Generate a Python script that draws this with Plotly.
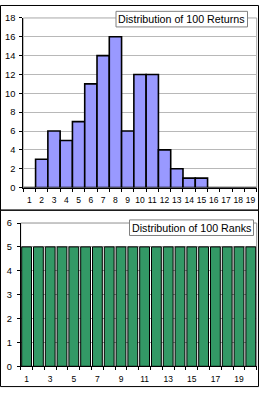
import plotly.graph_objects as go

W, H = 261, 394

# ---- data ----
return_bins = [1, 2, 3, 4, 5, 6, 7, 8, 9, 10, 11, 12, 13, 14, 15, 16, 17, 18, 19]
return_counts = [0, 3, 6, 5, 7, 11, 14, 16, 6, 12, 12, 4, 2, 1, 1, 0, 0, 0, 0]
rank_bins = [1, 2, 3, 4, 5, 6, 7, 8, 9, 10, 11, 12, 13, 14, 15, 16, 17, 18, 19, 20]
rank_counts = [5, 5, 5, 5, 5, 5, 5, 5, 5, 5, 5, 5, 5, 5, 5, 5, 5, 5, 5, 5]
rank_labels = [1, 3, 5, 7, 9, 11, 13, 15, 17, 19]
top_title = "Distribution of 100 Returns"
bottom_title = "Distribution of 100 Ranks"

FONT = "Liberation Sans, Arial, sans-serif"


def px(x):
    return x / W


def py(y):
    return 1 - y / H


fig = go.Figure()

fig.add_trace(go.Bar(
    x=return_bins, y=return_counts, width=1,
    marker=dict(color="#9999FF", line=dict(color="black", width=1.6)),
    xaxis="x", yaxis="y", showlegend=False, hoverinfo="skip"))

fig.add_trace(go.Bar(
    x=rank_bins, y=rank_counts, width=0.83,
    marker=dict(color="#339966", line=dict(color="black", width=1)),
    xaxis="x2", yaxis="y2", showlegend=False, hoverinfo="skip"))

tickfont = dict(family=FONT, size=8.5, color="black")
ytickfont = dict(family=FONT, size=9.3, color="black")

fig.update_layout(
    width=W, height=H,
    margin=dict(l=0, r=0, t=0, b=0),
    paper_bgcolor="white", plot_bgcolor="white",
    xaxis=dict(
        domain=[px(23.3), px(256.7)], anchor="y",
        range=[0.5, 19.5], tickmode="array",
        tickvals=return_bins, ticktext=[str(v) for v in return_bins],
        ticks="", showline=True, linecolor="black", linewidth=1,
        showgrid=False, zeroline=False, tickfont=tickfont,
        ticklabelstandoff=4,
        minor=dict(tickmode="array",
                   tickvals=[b - 0.5 for b in return_bins] + [return_bins[-1] + 0.5],
                   ticks="outside", ticklen=3, tickcolor="black", showgrid=False),
        fixedrange=True),
    yaxis=dict(
        domain=[py(187.3), py(13.3)], anchor="x",
        range=[0, 18], tickmode="linear", tick0=0, dtick=2,
        ticks="outside", ticklen=3, tickcolor="black",
        showline=True, linecolor="black", linewidth=1,
        showgrid=True, gridcolor="#B8B8B8", gridwidth=1,
        zeroline=False, tickfont=ytickfont, ticklabelstandoff=2,
        fixedrange=True),
    xaxis2=dict(
        domain=[px(20.7), px(256.7)], anchor="y2",
        range=[0.5, 20.5], tickmode="array",
        tickvals=rank_labels, ticktext=[str(v) for v in rank_labels],
        ticks="", showline=True, linecolor="black", linewidth=1,
        showgrid=False, zeroline=False, tickfont=tickfont,
        ticklabelstandoff=5,
        minor=dict(tickmode="array",
                   tickvals=[b - 0.5 for b in rank_bins] + [rank_bins[-1] + 0.5],
                   ticks="outside", ticklen=3, tickcolor="black", showgrid=False),
        fixedrange=True),
    yaxis2=dict(
        domain=[py(370.7), py(223.7)], anchor="x2",
        range=[0, 6], tickmode="linear", tick0=0, dtick=1,
        ticks="outside", ticklen=3, tickcolor="black",
        showline=True, linecolor="black", linewidth=1,
        showgrid=True, gridcolor="#A0A0A0", gridwidth=1,
        zeroline=False, tickfont=ytickfont, ticklabelstandoff=3,
        fixedrange=True),
)

shapes = []
# plot-area grey borders
for xr, yr, col in [("x domain", "y domain", "#A8A8A8"), ("x2 domain", "y2 domain", "#909090")]:
    shapes.append(dict(type="rect", xref=xr, yref=yr, x0=0, x1=1, y0=0, y1=1,
                       line=dict(color=col, width=1), layer="below"))
# outer chart frames
for (x0, y0, x1, y1) in [(0.5, 0.5, 258.5, 210.5), (0.5, 210.5, 258.5, 391.5)]:
    shapes.append(dict(type="rect", xref="paper", yref="paper",
                       x0=px(x0), x1=px(x1), y0=py(y1), y1=py(y0),
                       line=dict(color="black", width=1), fillcolor="rgba(0,0,0,0)",
                       layer="above"))
# title boxes
for (x0, y0, x1, y1) in [(116, 6.5, 247.5, 22.5), (129.5, 220.5, 253.5, 236.5)]:
    shapes.append(dict(type="rect", xref="paper", yref="paper",
                       x0=px(x0), x1=px(x1), y0=py(y1), y1=py(y0),
                       line=dict(color="#808080", width=1), fillcolor="white",
                       layer="above"))
fig.update_layout(shapes=shapes)

fig.add_annotation(text=top_title, xref="paper", yref="paper",
                   x=px(181.75), y=py(14.5), showarrow=False,
                   xanchor="center", yanchor="middle",
                   font=dict(family=FONT, size=10.7, color="black"))
fig.add_annotation(text=bottom_title, xref="paper", yref="paper",
                   x=px(191.5), y=py(228.5), showarrow=False,
                   xanchor="center", yanchor="middle",
                   font=dict(family=FONT, size=10.7, color="black"))

fig.write_html("out.html", config=dict(displayModeBar=False))
